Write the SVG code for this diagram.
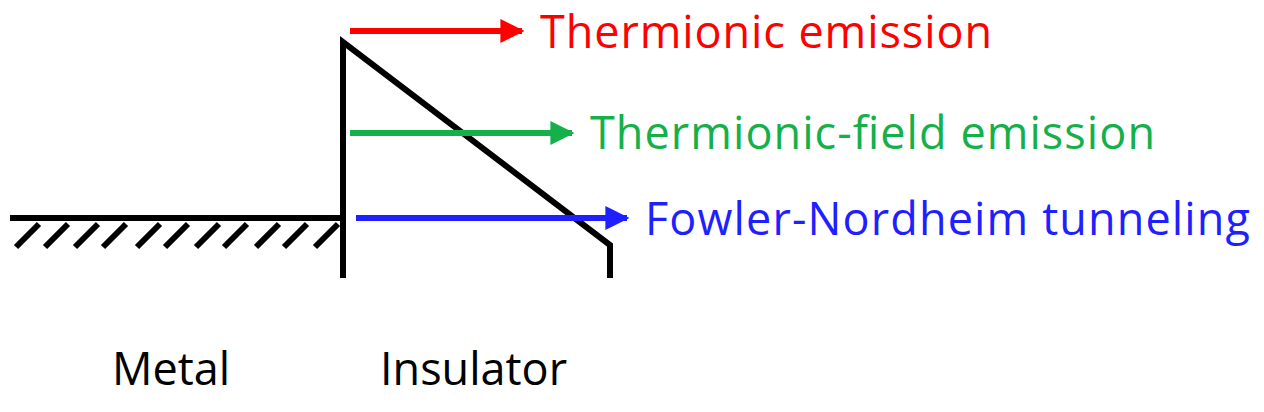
<svg xmlns="http://www.w3.org/2000/svg" width="1264" height="412" viewBox="0 0 1264 412">
<style>
.k{stroke:#000;stroke-width:6;fill:none}
.t{font-family:"Open Sans","Liberation Sans",sans-serif;font-size:45px}
</style>
<defs>
<marker id="ar-r" viewBox="0 0 10 10" refX="9" refY="5" markerWidth="4" markerHeight="4.5" orient="auto" markerUnits="strokeWidth"><path d="M0,0L10,5L0,10z" fill="#ff0000"/></marker>
<marker id="ar-g" viewBox="0 0 10 10" refX="9" refY="5" markerWidth="4" markerHeight="4.5" orient="auto" markerUnits="strokeWidth"><path d="M0,0L10,5L0,10z" fill="#14b04a"/></marker>
<marker id="ar-b" viewBox="0 0 10 10" refX="9" refY="5" markerWidth="4" markerHeight="4.5" orient="auto" markerUnits="strokeWidth"><path d="M0,0L10,5L0,10z" fill="#1f1fff"/></marker>
</defs>
<g id="metal">
<path class="k" d="M10,218H343"/>
<path class="k" d="M16,247l23,-23M45,247l23,-23M75,247l23,-23M103,247l23,-23M137,247l23,-23M165,247l23,-23M196,247l23,-23M224,247l23,-23M256,247l23,-23M284,247l23,-23M315,247l23,-23"/>
<text class="t" x="112" y="385">Metal</text>
</g>
<g id="insulator">
<path class="k" d="M343,278V42L610,245V278"/>
<text class="t" x="380" y="385">Insulator</text>
</g>
<g id="connectors">
<line x1="350" y1="31" x2="522" y2="31" stroke="#ff0000" stroke-width="6" marker-end="url(#ar-r)"/>
<line x1="350" y1="133" x2="572" y2="133" stroke="#14b04a" stroke-width="6" marker-end="url(#ar-g)"/>
<line x1="356" y1="218" x2="627" y2="218" stroke="#1f1fff" stroke-width="6" marker-end="url(#ar-b)"/>
</g>
<g id="labels">
<text class="t" x="540" y="48" fill="#ff0000" textLength="452">Thermionic emission</text>
<text class="t" x="590" y="149" fill="#14b04a" textLength="565">Thermionic-field emission</text>
<text class="t" x="645" y="235" fill="#1f1fff" textLength="605">Fowler-Nordheim tunneling</text>
</g>
</svg>
